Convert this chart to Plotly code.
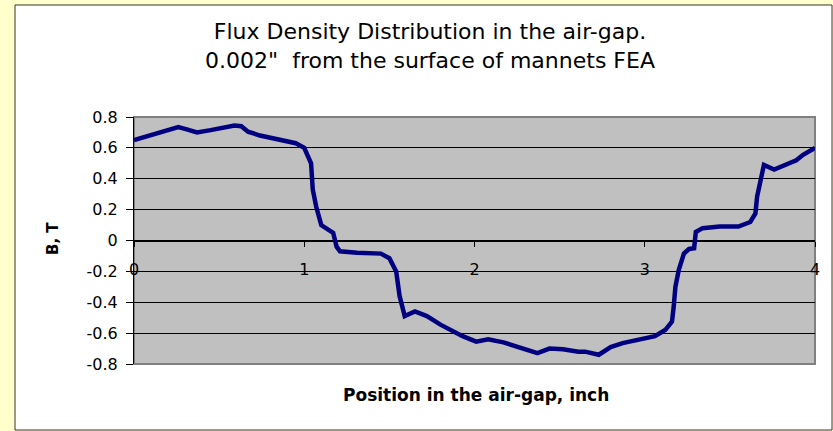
import plotly.graph_objects as go

# ---- data ----
position_inch = [0.0, 0.09, 0.17, 0.26, 0.31, 0.37, 0.45, 0.53, 0.59, 0.63,
                 0.67, 0.74, 0.82, 0.90, 0.95, 1.00, 1.04, 1.05, 1.07, 1.10,
                 1.17, 1.19, 1.21, 1.31, 1.45, 1.50, 1.54, 1.56, 1.59, 1.65,
                 1.72, 1.80, 1.88, 1.93, 2.01, 2.08, 2.17, 2.29, 2.37, 2.44,
                 2.52, 2.61, 2.65, 2.73, 2.80, 2.87, 2.95, 3.06, 3.12, 3.16,
                 3.17, 3.18, 3.20, 3.23, 3.26, 3.29, 3.30, 3.34, 3.44, 3.55,
                 3.62, 3.65, 3.66, 3.68, 3.70, 3.76, 3.83, 3.89, 3.93, 4.00]
flux_density_T = [0.65, 0.68, 0.705, 0.735, 0.72, 0.70, 0.715, 0.73, 0.745, 0.74,
                  0.705, 0.68, 0.66, 0.64, 0.63, 0.60, 0.50, 0.33, 0.22, 0.10,
                  0.05, -0.04, -0.07, -0.08, -0.085, -0.115, -0.20, -0.36, -0.49, -0.46,
                  -0.49, -0.545, -0.59, -0.62, -0.655, -0.64, -0.66, -0.70, -0.73, -0.70,
                  -0.705, -0.72, -0.72, -0.74, -0.69, -0.665, -0.645, -0.62, -0.58, -0.525,
                  -0.43, -0.30, -0.19, -0.085, -0.055, -0.05, 0.055, 0.08, 0.09, 0.09,
                  0.12, 0.175, 0.285, 0.39, 0.49, 0.46, 0.49, 0.52, 0.555, 0.60]

x_tick_vals = [0, 1, 2, 3, 4]
x_tick_text = ["0", "1", "2", "3", "4"]
y_tick_vals = [-0.8, -0.6, -0.4, -0.2, 0, 0.2, 0.4, 0.6, 0.8]
y_tick_text = ["-0.8", "-0.6", "-0.4", "-0.2", "0", "0.2", "0.4", "0.6", "0.8"]

title_lines = ["Flux Density Distribution in the air-gap.",
               "0.002\"\u00a0 from the surface of mannets FEA"]
x_title = "Position in the air-gap, inch"
y_title = "B, T"

# ---- layout geometry (pixels) ----
W, H = 833, 431
L, R, T, B = 134, 815, 117, 364  # plot area edges


def px_x(p):
    return (p - L) / (R - L)


def px_y(p):
    return (B - p) / (B - T)


FONT = "DejaVu Sans, Arial, sans-serif"
YELLOW = "#FFFFCC"

fig = go.Figure()
fig.add_trace(go.Scatter(
    x=position_inch, y=flux_density_T, mode="lines",
    line=dict(color="#000080", width=4.5),
    showlegend=False, hoverinfo="x+y",
))

shapes = [
    # white chart area with dark border
    dict(type="rect", xref="paper", yref="paper",
         x0=px_x(15), x1=px_x(832), y0=px_y(430), y1=px_y(5),
         fillcolor="white", line=dict(color="#333333", width=1), layer="below"),
    # grey plot area
    dict(type="rect", xref="paper", yref="paper",
         x0=0, x1=1, y0=0, y1=1,
         fillcolor="#C0C0C0", line=dict(width=0), layer="below"),
    # grey plot-area border
    dict(type="rect", xref="paper", yref="paper",
         x0=0, x1=1, y0=0, y1=1,
         fillcolor="rgba(0,0,0,0)", line=dict(color="#808080", width=2),
         layer="between"),
]

annotations = [
    dict(text=f"<b>{x_title}</b>", xref="paper", yref="paper",
         x=px_x(476), y=px_y(395), xanchor="center", yanchor="middle",
         showarrow=False, font=dict(family=FONT, size=17, color="black")),
    dict(text=f"<b>{y_title}</b>", xref="paper", yref="paper",
         x=px_x(53), y=px_y(239), xanchor="center", yanchor="middle",
         textangle=-90, showarrow=False,
         font=dict(family=FONT, size=15, color="black")),
]

fig.update_layout(
    width=W, height=H,
    margin=dict(l=L, r=W - R, t=T, b=H - B, pad=0),
    paper_bgcolor=YELLOW,
    plot_bgcolor="rgba(0,0,0,0)",
    font=dict(family=FONT, size=16, color="black"),
    title=dict(text="<br>".join(title_lines), xref="container", yref="container",
               x=430 / W, xanchor="center", y=1 - 39 / H, yanchor="top",
               font=dict(family=FONT, size=22, color="black")),
    shapes=shapes,
    annotations=annotations,
    xaxis=dict(range=[0, 4], tickvals=x_tick_vals, ticktext=x_tick_text,
               anchor="free", position=0.5, showline=True, linecolor="black",
               linewidth=1, ticks="outside", ticklen=5, tickcolor="black",
               ticklabelstandoff=9, showgrid=False, zeroline=False,
               tickfont=dict(family=FONT, size=16, color="black")),
    yaxis=dict(range=[-0.8, 0.8], tickvals=y_tick_vals, ticktext=y_tick_text,
               showline=True, linecolor="black", linewidth=1,
               ticks="outside", ticklen=7, tickcolor="black",
               ticklabelstandoff=5, showgrid=True, gridcolor="black",
               gridwidth=1, zeroline=False,
               tickfont=dict(family=FONT, size=16, color="black")),
)

fig.write_html(
    "out.html",
    config={"displayModeBar": False},
    post_script="document.body.style.margin='0';"
                "document.body.style.background='" + YELLOW + "';",
)
